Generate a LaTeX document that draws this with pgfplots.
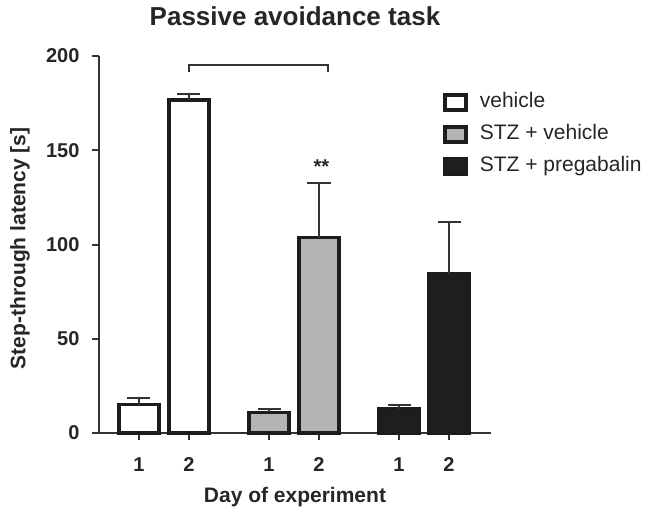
\documentclass[border=0pt]{standalone}
\usepackage{fontspec}
\setmainfont{Liberation Sans}
\usepackage{pgfplots}
\pgfplotsset{compat=1.18}

\definecolor{edge}{HTML}{1C1C1C}
\definecolor{axl}{HTML}{333333}
\definecolor{midgray}{HTML}{B3B3B3}
\definecolor{dark}{HTML}{1E1E1E}

\begin{document}
\begin{tikzpicture}
\begin{axis}[
name=ax,
scale only axis,
width=392pt, height=377pt,
xmin=0.2, xmax=8.04,
ymin=0, ymax=200,
clip=false,
axis lines*=left,
axis line style={axl, line width=2pt},
tick align=outside,
major tick length=7pt,
tick style={axl, line width=2pt},
xtick={1,2,3.6,4.6,6.2,7.2},
xticklabels={1,2,1,2,1,2},
ytick={0,50,100,150,200},
/pgf/number format/assume math mode=true,
ticklabel style={font=\fontsize{20}{24}\selectfont\bfseries, text=black!85},
yticklabel style={xshift=-9pt},
xticklabel style={yshift=-14pt},
ybar, bar width=0.8, bar shift=0pt,
title={Passive avoidance task},
title style={font=\fontsize{26}{30}\selectfont\bfseries, text=black!85,
  at={(rel axis cs:0.5,1)}, anchor=base, yshift=24pt},
xlabel={Day of experiment},
xlabel style={font=\fontsize{21}{25}\selectfont\bfseries, text=black!85,
  at={(rel axis cs:0.5,0)}, anchor=base, yshift=-69pt},
ylabel={Step-through latency [s]},
% default ylabel rotation stays at 90, so yshift moves it to the left
ylabel style={font=\fontsize{21}{25}\selectfont\bfseries, text=black!85,
  at={(rel axis cs:0,0.49)}, anchor=center, yshift=79pt},
legend style={at={(rel axis cs:0.878,0.903)}, anchor=north west, draw=none,
  fill=none, inner sep=0pt, row sep=13pt,
  font=\fontsize{21}{25}\selectfont, text=black!85,
  nodes={inner sep=0pt, text height=15pt, text depth=4pt},
  /tikz/every odd column/.append style={column sep=12pt}},
legend cell align=left,
legend image code/.code={\draw[#1, line width=3.5pt] (0pt,-7.5pt) rectangle (21pt,7.5pt);},
error bars/y dir=plus,
error bars/y explicit,
error bars/error mark=-,
error bars/error mark options={axl, line width=2pt, mark size=11.5pt, rotate=90},
error bars/error bar style={axl, line width=2pt},
]
\addplot[draw=edge, fill=white, line width=3.8pt]
  coordinates {(1,15.1) +- (0,3.7) (2,176.7) +- (0,3.3)};
\addplot[draw=edge, fill=midgray, line width=3.8pt]
  coordinates {(3.6,10.9) +- (0,1.6) (4.6,103.7) +- (0,29.1)};
\addplot[draw=edge, fill=dark, line width=3.8pt]
  coordinates {(6.2,12.7) +- (0,2.2) (7.2,84.6) +- (0,27.4)};
\legend{vehicle, STZ + vehicle, STZ + pregabalin}

% x axis runs a little past the y axis
\draw[axl, line width=2pt] (axis cs:0.06,0) -- (axis cs:0.2,0);
% significance bracket
\draw[axl, line width=2pt] (axis cs:2,191.5) -- (axis cs:2,195.2) -- (axis cs:4.78,195.2) -- (axis cs:4.78,191.5);
\node[font=\fontsize{20}{24}\selectfont\bfseries, text=black!85] at (axis cs:4.65,141.5) {**};
\end{axis}
\pgfresetboundingbox
\path[use as bounding box] ([shift={(-99pt,-74pt)}]ax.south west) rectangle ([shift={(547pt,433pt)}]ax.south west);
\end{tikzpicture}
\end{document}
